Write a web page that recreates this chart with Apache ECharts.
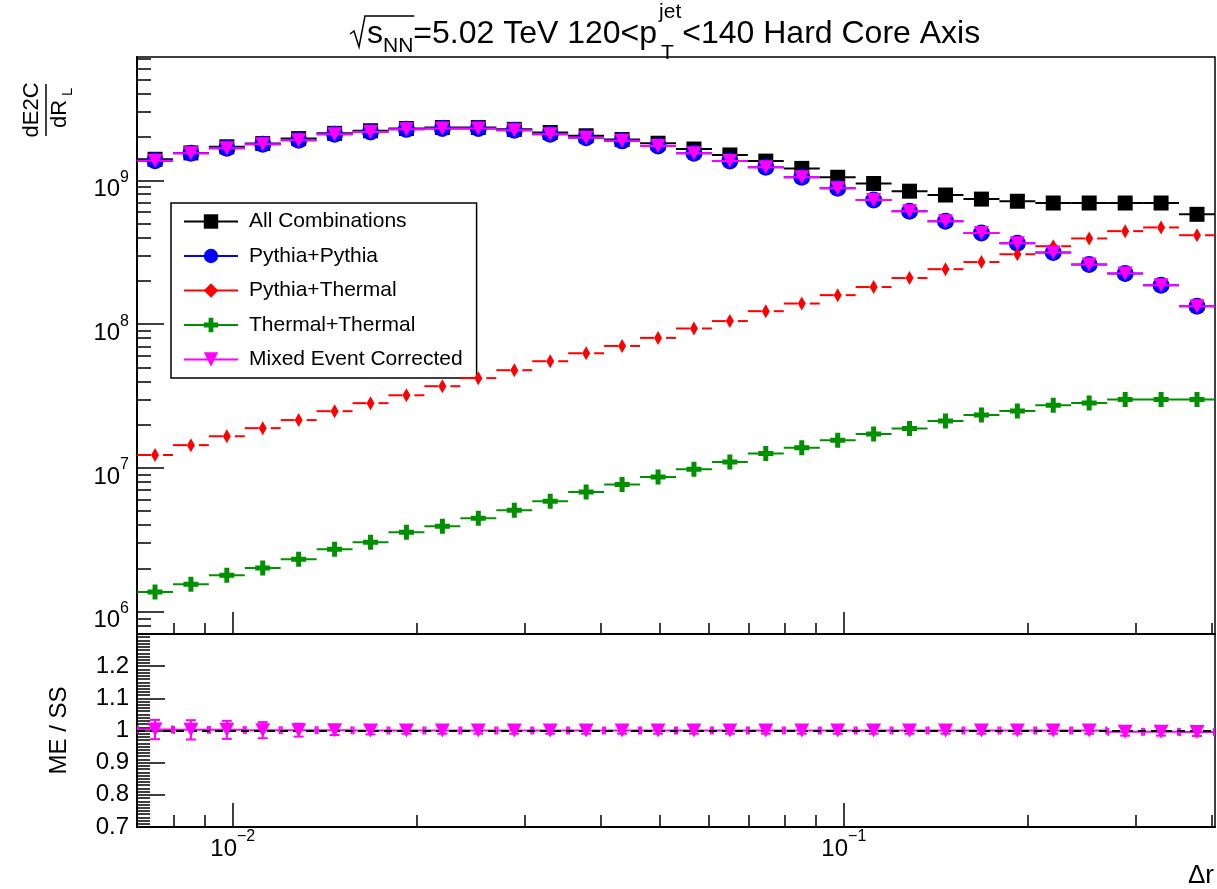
<!DOCTYPE html>
<html><head><meta charset="utf-8">
<script src="https://cdn.jsdelivr.net/npm/echarts@6/dist/echarts.min.js"></script>
<style>html,body{margin:0;padding:0;background:#fff}#c{width:1217px;height:889px}</style>
</head><body><div id="c"></div>
<script>
// ---- data ----
const xCenters = [0.007460, 0.008540, 0.009778, 0.011195, 0.012817, 0.014677, 0.016804, 0.019238, 0.022029, 0.025223,
  0.028887, 0.033073, 0.037867, 0.043363, 0.049656, 0.056847, 0.065087, 0.074523, 0.085345, 0.097720,
  0.11189, 0.12809, 0.14668, 0.16796, 0.19232, 0.22015, 0.25207, 0.28869, 0.33053, 0.37844];
const allCombinations = [1.40e9, 1.55e9, 1.71e9, 1.80e9, 1.95e9, 2.12e9, 2.21e9, 2.29e9, 2.33e9, 2.33e9,
  2.26e9, 2.15e9, 2.04e9, 1.92e9, 1.81e9, 1.65e9, 1.50e9, 1.36e9, 1.21e9, 1.05e9,
  9.5e8, 8.4e8, 7.9e8, 7.4e8, 7.15e8, 6.95e8, 6.95e8, 6.95e8, 6.95e8, 5.8e8];
const pythiaPythia = [1.37e9, 1.54e9, 1.67e9, 1.78e9, 1.90e9, 2.09e9, 2.17e9, 2.26e9, 2.29e9, 2.29e9,
  2.23e9, 2.09e9, 1.98e9, 1.88e9, 1.73e9, 1.54e9, 1.36e9, 1.23e9, 1.05e9, 8.8e8,
  7.3e8, 6.1e8, 5.2e8, 4.3e8, 3.65e8, 3.15e8, 2.6e8, 2.25e8, 1.86e8, 1.33e8];
const pythiaThermal = [1.23e7, 1.44e7, 1.66e7, 1.89e7, 2.15e7, 2.48e7, 2.82e7, 3.20e7, 3.70e7, 4.21e7,
  4.78e7, 5.52e7, 6.27e7, 7.05e7, 8.02e7, 9.32e7, 1.05e8, 1.23e8, 1.39e8, 1.59e8,
  1.81e8, 2.09e8, 2.41e8, 2.70e8, 3.06e8, 3.48e8, 3.94e8, 4.43e8, 4.70e8, 4.15e8];
const thermalThermal = [1.37e6, 1.55e6, 1.79e6, 2.01e6, 2.32e6, 2.72e6, 3.04e6, 3.57e6, 3.93e6, 4.47e6,
  5.08e6, 5.87e6, 6.81e6, 7.67e6, 8.66e6, 9.79e6, 1.10e7, 1.26e7, 1.38e7, 1.56e7,
  1.72e7, 1.88e7, 2.12e7, 2.33e7, 2.49e7, 2.73e7, 2.83e7, 2.99e7, 2.99e7, 2.99e7];
const mixedEventCorrected = [1.37e9, 1.54e9, 1.67e9, 1.78e9, 1.90e9, 2.09e9, 2.17e9, 2.26e9, 2.29e9, 2.29e9,
  2.23e9, 2.09e9, 1.98e9, 1.88e9, 1.73e9, 1.54e9, 1.36e9, 1.23e9, 1.05e9, 8.8e8,
  7.3e8, 6.1e8, 5.2e8, 4.3e8, 3.65e8, 3.15e8, 2.6e8, 2.25e8, 1.86e8, 1.33e8];
const ratioMEoverSS = [1.003, 1.002, 1.002, 1.001, 1.001, 1.001, 1.000, 1.000, 1.000, 1.000,
  1.000, 1.000, 1.000, 1.000, 1.000, 1.000, 1.000, 1.000, 1.000, 1.000,
  1.000, 1.000, 1.000, 1.000, 1.000, 1.000, 1.000, 0.996, 0.996, 0.995];
const ratioErr = [0.030, 0.030, 0.028, 0.025, 0.020, 0.015, 0.012, 0.010, 0.010, 0.010,
  0.010, 0.010, 0.010, 0.010, 0.010, 0.010, 0.010, 0.010, 0.010, 0.010,
  0.010, 0.010, 0.010, 0.010, 0.010, 0.010, 0.010, 0.012, 0.012, 0.012];
const seriesNames = ['All Combinations', 'Pythia+Pythia', 'Pythia+Thermal', 'Thermal+Thermal', 'Mixed Event Corrected'];
const yMajorTicks = [1e6, 1e7, 1e8, 1e9];
const yMinorTicks = [8e5, 9e5, 2e6, 3e6, 4e6, 5e6, 6e6, 7e6, 8e6, 9e6, 2e7, 3e7, 4e7, 5e7, 6e7, 7e7, 8e7, 9e7,
  2e8, 3e8, 4e8, 5e8, 6e8, 7e8, 8e8, 9e8, 2e9, 3e9, 4e9, 5e9, 6e9, 7e9];
const xMajorTicks = [0.01, 0.1];
const xMinorTicks = [0.008, 0.009, 0.02, 0.03, 0.04, 0.05, 0.06, 0.07, 0.08, 0.09, 0.2, 0.3, 0.4];
const ratioLabels = [0.7, 0.8, 0.9, 1.0, 1.1, 1.2];

// ---- drawing ----
const F = '"Liberation Sans", Arial, Helvetica, sans-serif';
const X_MIN = 0.00697, X_MAX = 0.405, Y_MIN = 7e5, Y_MAX = 7.2e9;
const n = xCenters.length;
const edgeLo = xCenters.map((c, i) => i === 0 ? c * Math.sqrt(c / xCenters[1]) : Math.sqrt(c * xCenters[i - 1]));
const edgeHi = xCenters.map((c, i) => i === n - 1 ? c * Math.sqrt(c / xCenters[n - 2]) : Math.sqrt(c * xCenters[i + 1]));

const chart = echarts.init(document.getElementById('c'), null, {renderer: 'canvas', width: 1217, height: 889});

const SYM = {
  diamond: 'path://M0,0 L4,7 L0,14 L-4,7 Z',
  cross: 'path://M-2.5,-7.5 L2.5,-7.5 L2.5,-2.5 L7.5,-2.5 L7.5,2.5 L2.5,2.5 L2.5,7.5 L-2.5,7.5 L-2.5,2.5 L-7.5,2.5 L-7.5,-2.5 L-2.5,-2.5 Z',
  triDown: 'path://M-7,-6 L7,-6 L0,7 Z'
};

function hErr(color, gap) {
  return function (params, api) {
    const i = params.dataIndex;
    const y = api.value(1);
    const pc = api.coord([api.value(0), y]);
    const p0 = api.coord([edgeLo[i], y]);
    const p1 = api.coord([edgeHi[i], y]);
    const st = {stroke: color, lineWidth: 2};
    const ch = [];
    if (gap) {
      ch.push({type: 'line', shape: {x1: p0[0], y1: pc[1], x2: pc[0] - gap[0], y2: pc[1]}, style: st});
      ch.push({type: 'line', shape: {x1: pc[0] + gap[1], y1: pc[1], x2: p1[0], y2: pc[1]}, style: st});
    } else {
      ch.push({type: 'line', shape: {x1: p0[0], y1: pc[1], x2: p1[0], y2: pc[1]}, style: st});
    }
    return {type: 'group', children: ch};
  };
}

const defs = [
  {name: seriesNames[0], vals: allCombinations, color: '#000000', symbol: 'rect', size: 15},
  {name: seriesNames[1], vals: pythiaPythia, color: '#0000ff', symbol: 'circle', size: 17},
  {name: seriesNames[2], vals: pythiaThermal, color: '#ff0000', symbol: SYM.diamond, size: [8, 14], gap: [4, 8]},
  {name: seriesNames[3], vals: thermalThermal, color: '#009000', symbol: SYM.cross, size: 15},
  {name: seriesNames[4], vals: mixedEventCorrected, color: '#ff00ff', symbol: SYM.triDown, size: [15, 14]}
];

const series = [];
defs.forEach((d, k) => {
  const pts = xCenters.map((x, i) => [x, d.vals[i]]);
  series.push({
    type: 'custom', name: '_err' + k, xAxisIndex: 0, yAxisIndex: 0, z: 2 + 2 * k, silent: true,
    renderItem: hErr(d.color, d.gap), data: pts, encode: {x: 0, y: 1}, animation: false
  });
  series.push({
    type: 'line', name: d.name, xAxisIndex: 0, yAxisIndex: 0, z: 3 + 2 * k, silent: true,
    data: pts, symbol: d.symbol, symbolSize: d.size, showSymbol: true, showAllSymbol: true,
    itemStyle: {color: d.color, borderWidth: 0},
    lineStyle: {color: d.color, opacity: 0, width: 2},
    emphasis: {disabled: true}, animation: false
  });
});

// ratio panel
const ratioPts = xCenters.map((x, i) => [x, ratioMEoverSS[i], ratioErr[i]]);
series.push({
  type: 'custom', name: '_ratioErr', xAxisIndex: 2, yAxisIndex: 2, z: 2, silent: true, animation: false,
  data: ratioPts, encode: {x: 0, y: 1},
  renderItem: function (params, api) {
    const i = params.dataIndex;
    const x = api.value(0), y = api.value(1), e = api.value(2);
    const pc = api.coord([x, y]);
    const p0 = api.coord([edgeLo[i], y]);
    const p1 = api.coord([edgeHi[i], y]);
    const pu = api.coord([x, y + e]);
    const pd = api.coord([x, y - e]);
    const st = {stroke: '#ff00ff', lineWidth: 2};
    const L = (a, b, c, d) => ({type: 'line', shape: {x1: a, y1: b, x2: c, y2: d}, style: st});
    return {type: 'group', children: [
      L(p0[0], pc[1], p1[0], pc[1]),
      L(p0[0] + 1, pc[1] - 4, p0[0] + 1, pc[1] + 4),
      L(p1[0] - 1, pc[1] - 4, p1[0] - 1, pc[1] + 4),
      L(pc[0], pu[1], pc[0], pd[1]),
      L(pc[0] - 5, pu[1], pc[0] + 5, pu[1]),
      L(pc[0] - 5, pd[1], pc[0] + 5, pd[1])
    ]};
  },
  markLine: {
    silent: true, symbol: 'none', label: {show: false}, animation: false,
    lineStyle: {color: '#000', type: [8, 5], width: 2},
    data: [{yAxis: 1}]
  }
});
series.push({
  type: 'line', name: '_ratio', xAxisIndex: 2, yAxisIndex: 2, z: 10, silent: true, animation: false,
  data: ratioPts.map(p => [p[0], p[1]]), symbol: SYM.triDown, symbolSize: [15, 14], showAllSymbol: true,
  itemStyle: {color: '#ff00ff', borderWidth: 0}, lineStyle: {opacity: 0}, emphasis: {disabled: true}
});

const expRich = {
  b: {fontSize: 24, fontFamily: F, color: '#000', verticalAlign: 'bottom', lineHeight: 24},
  e: {fontSize: 16, fontFamily: F, color: '#000', verticalAlign: 'bottom', lineHeight: 16, padding: [0, 0, 16, 0]}
};
const powFmt = v => {
  const p = Math.round(Math.log10(v));
  return '{b|10}{e|' + (p < 0 ? '\u2212' + (-p) : p) + '}';
};
const blk = {color: '#000', width: 1.5};
const axisBase = {splitLine: {show: false}, minorSplitLine: {show: false}};

const xAxis = [
  Object.assign({}, axisBase, {type: 'log', gridIndex: 0, position: 'bottom', min: X_MIN, max: X_MAX,
    axisLine: {show: true, lineStyle: {color: '#000', width: 2}},
    axisTick: {show: true, inside: true, length: 22, lineStyle: blk, customValues: xMajorTicks},
    axisLabel: {show: false}}),
  Object.assign({}, axisBase, {type: 'log', gridIndex: 0, position: 'bottom', min: X_MIN, max: X_MAX,
    axisLine: {show: false},
    axisTick: {show: true, inside: true, length: 11, lineStyle: blk, customValues: xMinorTicks},
    axisLabel: {show: false}}),
  Object.assign({}, axisBase, {type: 'log', gridIndex: 1, position: 'bottom', min: X_MIN, max: X_MAX,
    axisLine: {show: true, lineStyle: {color: '#000', width: 2}},
    axisTick: {show: true, inside: true, length: 24, lineStyle: blk, customValues: xMajorTicks},
    axisLabel: {show: true, customValues: xMajorTicks, margin: 10, formatter: powFmt, rich: expRich}}),
  Object.assign({}, axisBase, {type: 'log', gridIndex: 1, position: 'bottom', min: X_MIN, max: X_MAX,
    axisLine: {show: false},
    axisTick: {show: true, inside: true, length: 12, lineStyle: blk, customValues: xMinorTicks},
    axisLabel: {show: false}})
];

const yAxis = [
  Object.assign({}, axisBase, {type: 'log', gridIndex: 0, position: 'left', min: Y_MIN, max: Y_MAX,
    axisLine: {show: true, lineStyle: {color: '#000', width: 2}},
    axisTick: {show: true, inside: true, length: 27, lineStyle: blk, customValues: yMajorTicks},
    axisLabel: {show: true, customValues: yMajorTicks, margin: 8, formatter: powFmt, rich: expRich,
      verticalAlign: 'middle', padding: [18, 0, 0, 0]}}),
  Object.assign({}, axisBase, {type: 'log', gridIndex: 0, position: 'left', offset: 0, min: Y_MIN, max: Y_MAX,
    axisLine: {show: false},
    axisTick: {show: true, inside: true, length: 14, lineStyle: blk, customValues: yMinorTicks},
    axisLabel: {show: false}}),
  Object.assign({}, axisBase, {type: 'value', gridIndex: 1, position: 'left', min: 0.7, max: 1.3, interval: 0.1,
    axisLine: {show: true, lineStyle: {color: '#000', width: 2}},
    axisTick: {show: true, inside: true, length: 28, lineStyle: blk},
    minorTick: {show: true, splitNumber: 10, length: 13, lineStyle: blk},
    axisLabel: {show: true, customValues: ratioLabels, margin: 8, color: '#000', fontSize: 24, fontFamily: F,
      formatter: v => (Math.round(v * 10) / 10).toString()},
    name: 'ME / SS', nameLocation: 'middle', nameGap: 66, nameRotate: 90,
    nameTextStyle: {fontSize: 24, fontFamily: F, color: '#000'}})
];

// measurement helper for title layout
const mctx = document.createElement('canvas').getContext('2d');
function tw(t, s) { mctx.font = s + 'px "Liberation Sans"'; return mctx.measureText(t).width; }
const TS = 32, SS = 21;
function txt(t, x, base, s, align) {
  return {type: 'text', x: x, y: base - 0.33 * s, silent: true,
    style: {text: t, fontSize: s, fontFamily: F, fill: '#000', align: align || 'left', verticalAlign: 'middle'}};
}
const gfx = [];
let tx = 367;
gfx.push(txt('s', tx, 45, TS)); tx += tw('s', TS);
gfx.push(txt('NN', tx, 53, SS)); tx += tw('NN', SS);
const overEnd = tx + 1;
gfx.push({type: 'polyline', silent: true, shape: {points: [[350, 34], [354, 31], [359, 47], [365, 16], [overEnd, 16]]},
  style: {stroke: '#000', lineWidth: 1.5, fill: null}});
gfx.push(txt('=5.02 TeV 120<p', tx, 45, TS)); tx += tw('=5.02 TeV 120<p', TS) + 2;
gfx.push(txt('jet', tx, 19, SS));
gfx.push(txt('T', tx + 2, 60, SS));
tx += Math.max(tw('jet', SS), tw('T', SS)) + 1;
gfx.push(txt('<140 Hard Core Axis', tx, 45, TS));
// delta r axis title
gfx.push(txt('\u0394r', 1214, 884, 26, 'right'));
// y axis title fraction dE2C / dR_L (rotated)
gfx.push({type: 'group', x: 46, y: 110, rotation: Math.PI / 2, silent: true, children: [
  {type: 'text', x: 0, y: -3, style: {text: 'dE2C', fontSize: 22, fontFamily: F, fill: '#000', align: 'center', verticalAlign: 'bottom'}},
  {type: 'line', shape: {x1: -26, y1: 0, x2: 26, y2: 0}, style: {stroke: '#000', lineWidth: 1.5}},
  {type: 'text', x: -4, y: 3, style: {text: 'dR', fontSize: 22, fontFamily: F, fill: '#000', align: 'center', verticalAlign: 'top'}},
  {type: 'text', x: 14, y: 14, style: {text: 'L', fontSize: 15, fontFamily: F, fill: '#000', align: 'left', verticalAlign: 'top'}}
]});

const option = {
  animation: false,
  backgroundColor: '#fff',
  textStyle: {fontFamily: F},
  grid: [
    {left: 137, right: 2, top: 57, height: 577, show: true, borderColor: '#000', borderWidth: 1.5, backgroundColor: 'transparent', outerBoundsMode: 'none', containLabel: false},
    {left: 137, right: 2, top: 634, height: 193, show: true, borderColor: '#000', borderWidth: 1.5, backgroundColor: 'transparent', outerBoundsMode: 'none', containLabel: false}
  ],
  xAxis: xAxis,
  yAxis: yAxis,
  legend: {
    show: true, orient: 'vertical', left: 171, top: 203, selectedMode: false,
    data: seriesNames,
    itemWidth: 54, itemHeight: 18, itemGap: 13.5,
    padding: [8, 14, 8, 12],
    borderColor: '#000', borderWidth: 1.5, backgroundColor: '#fff', borderRadius: 0,
    textStyle: {fontSize: 21, color: '#000', fontFamily: F, padding: [0, 0, 0, 6]},
    lineStyle: {width: 2, opacity: 1},
    itemStyle: {opacity: 1, borderWidth: 0}
  },
  graphic: gfx,
  series: series
};
chart.setOption(option);
</script>
</body></html>
